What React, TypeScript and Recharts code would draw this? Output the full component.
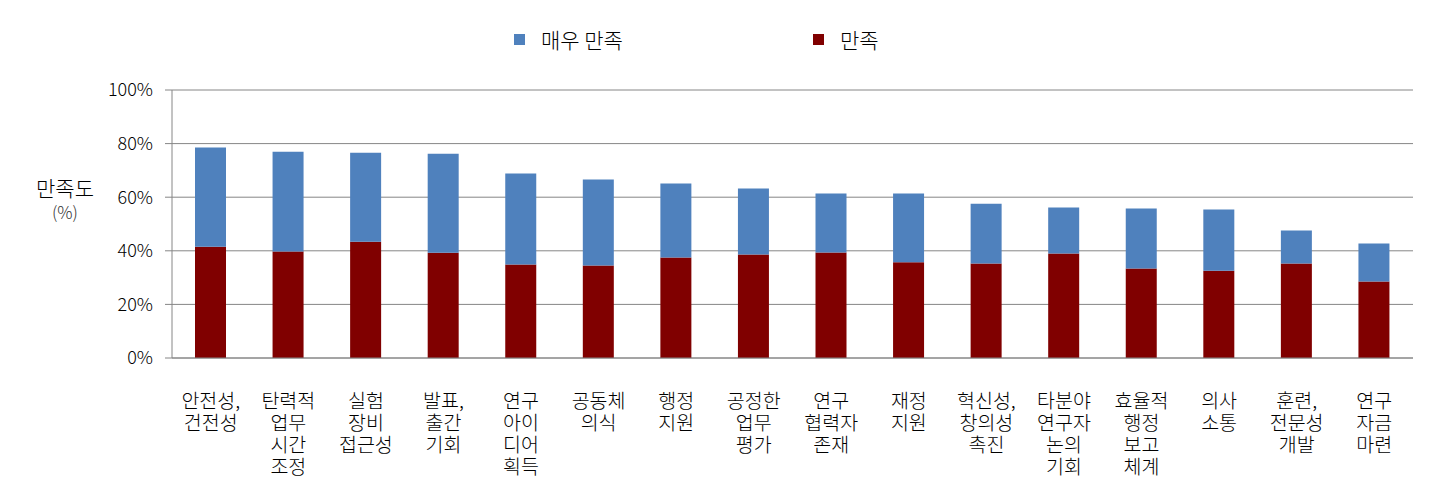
import React from "react";
import { BarChart, Bar, XAxis, YAxis, CartesianGrid } from "recharts";

const categories: string[] = [
  "안전성,\n건전성",
  "탄력적\n업무\n시간\n조정",
  "실험\n장비\n접근성",
  "발표,\n출간\n기회",
  "연구\n아이\n디어\n획득",
  "공동체\n의식",
  "행정\n지원",
  "공정한\n업무\n평가",
  "연구\n협력자\n존재",
  "재정\n지원",
  "혁신성,\n창의성\n촉진",
  "타분야\n연구자\n논의\n기회",
  "효율적\n행정\n보고\n체계",
  "의사\n소통",
  "훈련,\n전문성\n개발",
  "연구\n자금\n마련",
];

const satisfied: number[] = [41.5, 39.7, 43.4, 39.3, 34.9, 34.5, 37.5, 38.6, 39.4, 35.7, 35.3, 39.0, 33.4, 32.6, 35.3, 28.5];
const verySatisfied: number[] = [37.0, 37.3, 33.2, 36.9, 33.9, 32.1, 27.6, 24.6, 22.0, 25.7, 22.3, 17.2, 22.4, 22.8, 12.3, 14.2];

const yTicks: number[] = [0, 20, 40, 60, 80, 100];

const seriesNames = { very: "매우 만족", sat: "만족" };
const seriesColors = { very: "#4F81BD", sat: "#800000" };

const data = categories.map((c, i) => ({
  name: c,
  sat: satisfied[i],
  very: verySatisfied[i],
}));

const FONT = "'Noto Sans CJK KR', 'DejaVu Sans', sans-serif";

const CategoryTick = (props: any) => {
  const { x, y, payload } = props;
  const lines: string[] = String(payload.value).split("\n");
  return (
    <g>
      {lines.map((l, i) => (
        <text
          key={i}
          x={x}
          y={y + 50 + i * 22}
          textAnchor="middle"
          fontSize={19.5}
          fontWeight={300}
          fill="#000"
          fontFamily={FONT}
        >
          {l}
        </text>
      ))}
    </g>
  );
};

export default function App() {
  return (
    <div style={{ position: "absolute", left: 0, top: 0, width: 1438, height: 494, background: "#fff", fontFamily: FONT }}>
      <BarChart
        width={1438}
        height={494}
        data={data}
        margin={{ top: 90, right: 25, left: 92, bottom: 6 }}
        barSize={31}
      >
        <CartesianGrid vertical={false} stroke="#868686" strokeWidth={1} />
        <XAxis
          dataKey="name"
          interval={0}
          tickLine={false}
          tickSize={0}
          tickMargin={0}
          height={130}
          axisLine={{ stroke: "#868686" }}
          tick={<CategoryTick />}
        />
        <YAxis
          width={80}
          domain={[0, 100]}
          ticks={yTicks}
          tickFormatter={(v: number) => `${v}%`}
          tickSize={7}
          tickMargin={12}
          axisLine={{ stroke: "#868686" }}
          tickLine={{ stroke: "#868686" }}
          tick={{ fontSize: 18, fill: "#000", fontFamily: FONT, fontWeight: 300 }}
        />
        <Bar dataKey="sat" stackId="a" fill={seriesColors.sat} isAnimationActive={false} />
        <Bar dataKey="very" stackId="a" fill={seriesColors.very} isAnimationActive={false} />
      </BarChart>
      {/* Legend */}
      <div style={{ position: "absolute", left: 514, top: 34, width: 11, height: 11, background: seriesColors.very }} />
      <div style={{ position: "absolute", left: 541, top: 25, fontSize: 21, fontWeight: 300, lineHeight: "28px", color: "#000", whiteSpace: "nowrap" }}>
        {seriesNames.very}
      </div>
      <div style={{ position: "absolute", left: 813, top: 34, width: 11, height: 11, background: seriesColors.sat }} />
      <div style={{ position: "absolute", left: 840, top: 25, fontSize: 21, fontWeight: 300, lineHeight: "28px", color: "#000", whiteSpace: "nowrap" }}>
        {seriesNames.sat}
      </div>
      {/* Y axis title */}
      <div style={{ position: "absolute", left: 25, top: 174, width: 80, textAlign: "center", fontSize: 21, fontWeight: 300, lineHeight: "27px", color: "#000" }}>
        만족도
      </div>
      <div style={{ position: "absolute", left: 25, top: 201, width: 80, textAlign: "center", fontSize: 17, fontWeight: 300, lineHeight: "22px", color: "#333" }}>
        (%)
      </div>
    </div>
  );
}
